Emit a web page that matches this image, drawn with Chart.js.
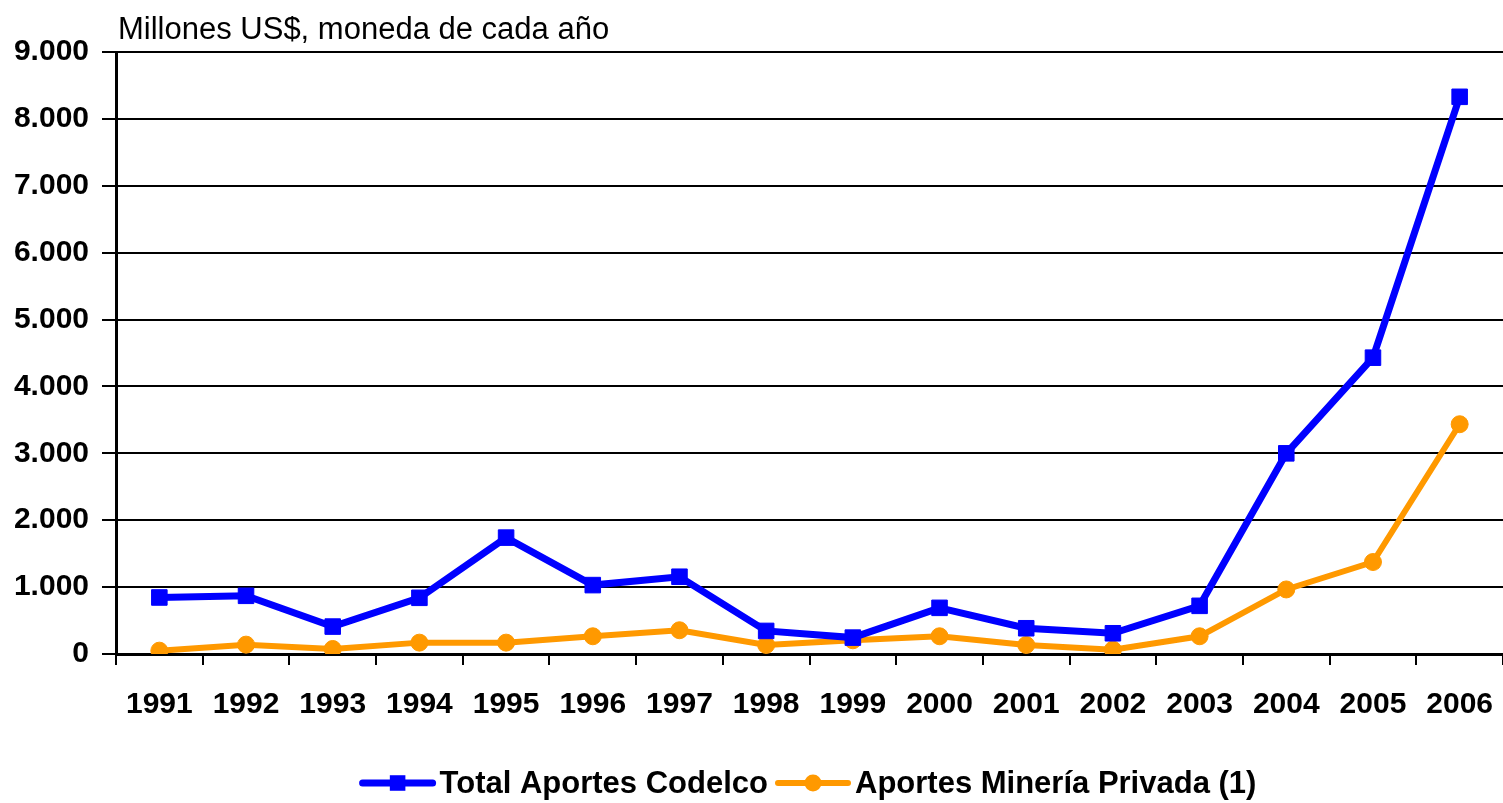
<!DOCTYPE html>
<html>
<head>
<meta charset="utf-8">
<script src="https://cdn.jsdelivr.net/npm/chart.js@4/dist/chart.umd.min.js"></script>
<style>
html,body{margin:0;padding:0;background:#fff;overflow:hidden;}
#wrap{width:1503px;height:803px;position:relative;}
canvas{display:block;}
</style>
</head>
<body>
<div id="wrap"><canvas id="c" width="1503" height="803"></canvas></div>
<script>
const years = ['1991','1992','1993','1994','1995','1996','1997','1998','1999','2000','2001','2002','2003','2004','2005','2006'];
const codelco = [845, 870, 410, 840, 1740, 1030, 1155, 345, 245, 690, 385, 310, 720, 3000, 4430, 8330];
const privada = [50, 140, 75, 170, 170, 265, 355, 135, 205, 265, 135, 65, 265, 965, 1375, 3435];
const seriesNames = ['Total Aportes Codelco', 'Aportes Minería Privada (1)'];
const unitLabel = 'Millones US$, moneda de cada año';
const yMin = 0, yMax = 9000, yStep = 1000;

const FONT = "'Liberation Sans', Arial, sans-serif";
Chart.defaults.font.family = FONT;
Chart.defaults.color = '#000';

function fmt(v){ return String(v).replace(/\B(?=(\d{3})+(?!\d))/g, '.'); }

const unitPlugin = {
  id: 'unitLabel',
  afterDraw(chart){
    const ctx = chart.ctx, a = chart.chartArea;
    ctx.save();
    ctx.font = "31px " + FONT;
    ctx.fillStyle = '#000';
    ctx.textBaseline = 'middle';
    ctx.textAlign = 'left';
    ctx.fillText(unitLabel, a.left + 2, 30);
    ctx.restore();
  }
};

const legendPlugin = {
  id: 'lineLegend',
  afterDraw(chart){
    const ctx = chart.ctx, a = chart.chartArea;
    ctx.save();
    ctx.font = "bold 31px " + FONT;
    const lineLen = 70, gapText = 7, gapItem = 10;
    const ds = chart.data.datasets;
    let total = 0;
    const widths = ds.map(d => ctx.measureText(d.label).width);
    widths.forEach((w,i)=>{ total += lineLen + gapText + w + (i < ds.length-1 ? gapItem : 0); });
    let x = (a.left + a.right) / 2 - total / 2;
    const y = 783;
    ds.forEach((d,i)=>{
      ctx.strokeStyle = d.borderColor;
      ctx.lineWidth = d.borderWidth;
      ctx.lineCap = 'round';
      ctx.beginPath(); ctx.moveTo(x, y); ctx.lineTo(x + lineLen, y); ctx.stroke();
      ctx.fillStyle = d.pointBackgroundColor;
      ctx.beginPath();
      const r = d.pointRadius;
      if (d.pointStyle === 'rect') {
        const s = Math.SQRT1_2 * r;
        ctx.rect(x + lineLen/2 - s, y - s, 2*s, 2*s);
      } else {
        ctx.arc(x + lineLen/2, y, r, 0, Math.PI*2);
      }
      ctx.fill();
      ctx.fillStyle = '#000';
      ctx.textBaseline = 'middle';
      ctx.textAlign = 'left';
      ctx.fillText(d.label, x + lineLen + gapText, y + 1);
      x += lineLen + gapText + widths[i] + gapItem;
    });
    ctx.restore();
  }
};

new Chart(document.getElementById('c'), {
  type: 'line',
  data: {
    labels: years,
    datasets: [
      {
        label: seriesNames[0],
        data: codelco,
        borderColor: '#0000FF',
        backgroundColor: '#0000FF',
        pointBackgroundColor: '#0000FF',
        pointBorderColor: '#0000FF',
        borderWidth: 7,
        pointStyle: 'rect',
        pointRadius: 11,
        pointBorderWidth: 1,
        tension: 0
      },
      {
        label: seriesNames[1],
        data: privada,
        borderColor: '#FF9900',
        backgroundColor: '#FF9900',
        pointBackgroundColor: '#FF9900',
        pointBorderColor: '#FF9900',
        borderWidth: 6,
        pointStyle: 'circle',
        pointRadius: 8.5,
        pointBorderWidth: 1,
        tension: 0
      }
    ]
  },
  options: {
    responsive: false,
    animation: false,
    devicePixelRatio: 1,
    layout: { autoPadding: false, padding: { top: 52, right: 0, bottom: 69, left: 0 } },
    plugins: {
      legend: { display: false },
      tooltip: { enabled: false },
      title: { display: false }
    },
    scales: {
      x: {
        offset: true,
        grid: { offset: true, drawOnChartArea: false, drawTicks: true, tickLength: 11, color: '#000', lineWidth: 2 },
        border: { color: '#000', width: 3 },
        ticks: { font: { size: 30, weight: 'bold', lineHeight: 2.63 }, color: '#000', padding: 0, maxRotation: 0, autoSkip: false },
        afterFit(s){ s.height = 80; s.paddingLeft = 0; s.paddingRight = 0; }
      },
      y: {
        min: yMin, max: yMax,
        grid: { color: '#000', lineWidth: 2, tickLength: 14 },
        border: { color: '#000', width: 3 },
        ticks: { stepSize: yStep, font: { size: 30, weight: 'bold' }, color: '#000', padding: 13, callback: v => fmt(v) },
        afterFit(s){ s.width = 116; s.paddingTop = 0; s.paddingBottom = 0; }
      }
    }
  },
  plugins: [unitPlugin, legendPlugin]
});
</script>
</body>
</html>
